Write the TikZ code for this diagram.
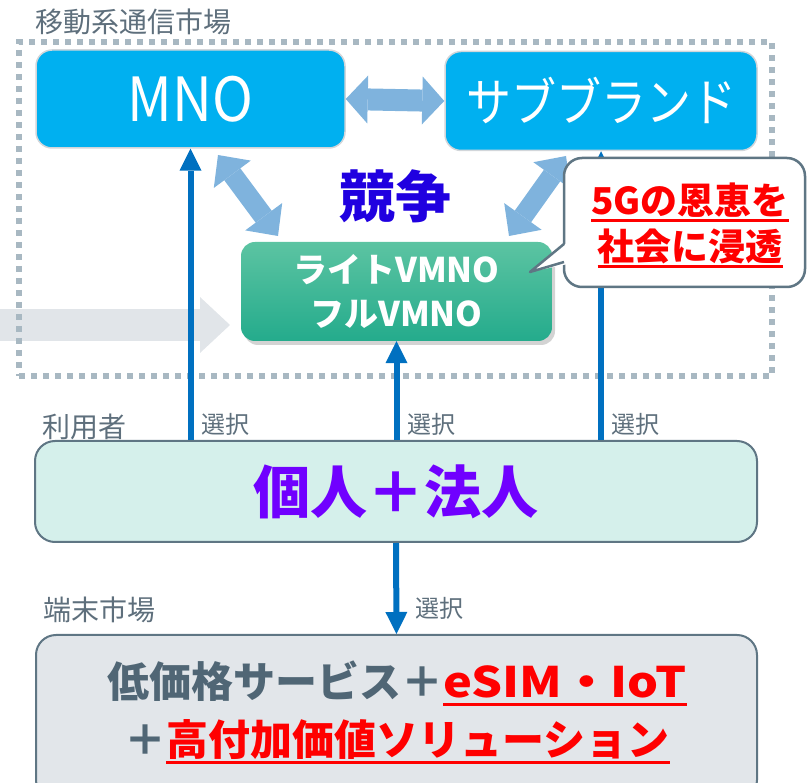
\documentclass[tikz,border=0pt]{standalone}
\usepackage{fontspec}
\usepackage{graphicx}
\setmainfont{Noto Sans CJK JP}
\usetikzlibrary{arrows.meta,shadows}
\definecolor{labelgray}{RGB}{94,111,124}
\definecolor{framegray}{RGB}{168,184,194}
\definecolor{mnoblue}{RGB}{0,176,240}
\definecolor{topedge}{RGB}{210,214,218}
\definecolor{lightarrow}{RGB}{127,179,221}
\definecolor{greentop}{RGB}{92,196,162}
\definecolor{greenbot}{RGB}{36,171,140}
\definecolor{kyoso}{RGB}{32,0,224}
\definecolor{kojincol}{RGB}{112,0,255}
\definecolor{kojinfill}{RGB}{213,240,235}
\definecolor{edgegray}{RGB}{95,118,132}
\definecolor{termfill}{RGB}{226,230,234}
\definecolor{termtext}{RGB}{80,102,117}
\definecolor{myred}{RGB}{255,0,0}
\definecolor{selblue}{RGB}{0,112,192}
\definecolor{grayarrow}{RGB}{225,229,233}
\newcommand\redul[1]{\textcolor{myred}{\setbox0\hbox{#1}\rlap{\rule[-0.2em]{\wd0}{2.6pt}}\box0}}
\begin{document}
\begin{tikzpicture}[x=1pt,y=-1pt,
  lbl/.style={font=\fontsize{28pt}{30pt}\selectfont, text=labelgray, anchor=west, inner sep=0pt},
  sellbl/.style={font=\fontsize{24pt}{26pt}\selectfont, text=labelgray, anchor=west, inner sep=0pt},
  topbox/.style={draw=topedge, line width=1.5pt, fill=mnoblue, rounded corners=16pt, text=white, inner sep=0pt},
  blockarrow/.style={draw=lightarrow, line width=22pt,
     {Triangle[length=22pt,width=48pt,line width=0pt]}-{Triangle[length=22pt,width=48pt,line width=0pt]}},
  diagarrow/.style={draw=lightarrow, line width=20pt,
     {Triangle[length=24pt,width=46pt,line width=0pt]}-{Triangle[length=24pt,width=46pt,line width=0pt]}},
  selarrow/.style={draw=selblue, line width=6pt, -{Triangle[length=22pt,width=22pt,line width=0pt]}},
  lowbox/.style={draw=edgegray, line width=2pt, rounded corners=20pt, inner sep=0pt},
  dotframe/.style={draw=framegray, line width=6pt, dash pattern=on 6pt off 6pt, inner sep=0pt}
]
\useasboundingbox (0,0) rectangle (807,783);

% gray arrow from the left
\coordinate (gstart) at (-10,325);
\coordinate (gend) at (230,325);
\draw[draw=grayarrow, line width=32pt, -{Triangle[length=30pt,width=56pt,line width=0pt]}] (gstart) -- (gend);

% market frame
\node[dotframe, minimum width=753pt, minimum height=334pt] (frame) at (395.5,209) {};
\node[lbl] (mktlbl) at (35,22) {移動系通信市場};

% top boxes
\node[topbox, minimum width=309pt, minimum height=98pt, font=\fontsize{58pt}{60pt}\selectfont] (mno) at (190.5,99) {\scalebox{0.95}[1.05]{MNO}};
\node[topbox, minimum width=312pt, minimum height=99pt, font=\fontsize{45pt}{48pt}\selectfont] (sub) at (601,101) {\scalebox{1}[1.15]{サブブランド}};

% VMNO box
\node[draw=none, rounded corners=14pt, top color=greentop, bottom color=greenbot,
      minimum width=311pt, minimum height=99pt, inner sep=0pt, text=white, align=center,
      font=\bfseries\fontsize{34pt}{44pt}\selectfont,
      drop shadow={opacity=0.35, shadow xshift=3pt, shadow yshift=-4pt}] (vmno) at (396.5,291.5) {ライトVMNO\\フルVMNO};

% competition arrows
\draw[blockarrow] (mno.east) -- (sub.west);
\coordinate (dl1) at (218,155);
\coordinate (dl2) at (278,236);
\coordinate (dr1) at (566,156);
\coordinate (dr2) at (509,236);
\draw[diagarrow] (dl1) -- (dl2);
\draw[diagarrow] (dr1) -- (dr2);

\node[font=\bfseries\fontsize{56pt}{58pt}\selectfont, text=kyoso, inner sep=0pt] (kyoso) at (395,196) {競争};

% users box
\node[lowbox, fill=kojinfill, minimum width=722pt, minimum height=101pt,
      font=\bfseries\fontsize{57pt}{60pt}\selectfont, text=kojincol] (kojin) at (396,491.5) {個人＋法人};
\node[lbl] (userlbl) at (42,427) {利用者};

% selection arrows
\draw[selarrow] (kojin.north -| mno.south) -- (mno.south);
\draw[selarrow] (kojin.north -| vmno.south) -- (vmno.south);
\draw[selarrow] (kojin.north -| sub.south) -- (sub.south);
\node[sellbl] (s1) at (201,424) {選択};
\node[sellbl] (s2) at (407,424) {選択};
\node[sellbl] (s3) at (611,424) {選択};

% callout
\node[draw=edgegray, line width=2.5pt, fill=white, rounded corners=18pt,
      minimum width=241pt, minimum height=129pt, inner sep=0pt] (call) at (684.5,222.5) {};
\coordinate (calltip) at (530,272);
\fill[white] (568,242) -- (calltip) -- (568,264) -- cycle;
\draw[draw=edgegray, line width=2.5pt, line join=round] (564,244) -- (calltip) -- (564,262);
\node[font=\bfseries\fontsize{37pt}{46pt}\selectfont, align=center, inner sep=0pt] (calltext) at (690,225)
  {\redul{5Gの恩恵を}\\\redul{社会に浸透}};

% terminal market
\node[lowbox, fill=termfill, minimum width=721pt, minimum height=165pt] (term) at (396.5,717.5) {};
\node[lbl] (termlbl) at (43,610) {端末市場};
\draw[selarrow] (kojin.south) -- (term.north);
\node[sellbl] (s4) at (415,608) {選択};
\node[font=\bfseries\fontsize{42pt}{58pt}\selectfont, text=termtext, align=center, inner sep=0pt] (termtext) at (397,712)
  {低価格サービス＋\redul{\scalebox{1.16}[1]{eSIM・IoT}}\\＋\redul{高付加価値ソリューション}};
\end{tikzpicture}
\end{document}
